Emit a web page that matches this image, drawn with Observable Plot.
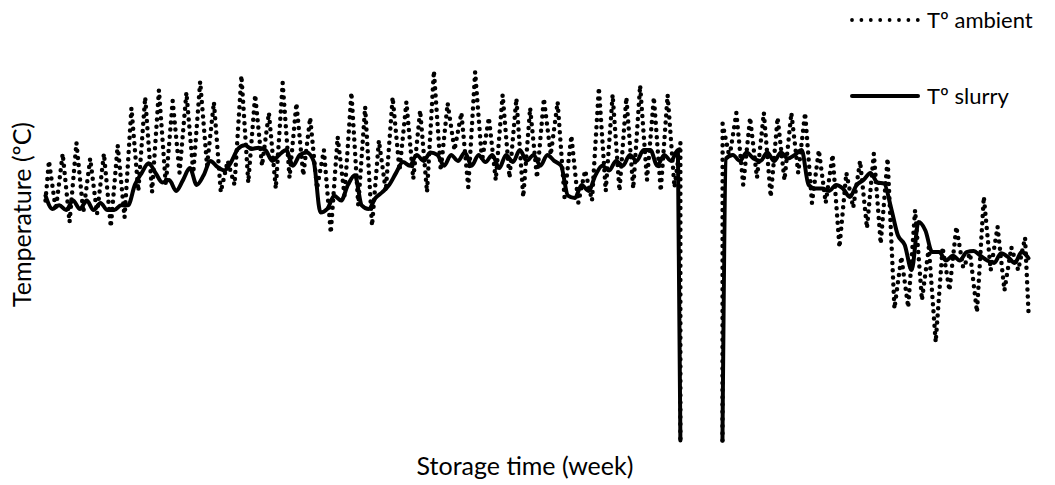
<!DOCTYPE html>
<html>
<head>
<meta charset="utf-8">
<script src="https://cdn.jsdelivr.net/npm/d3@7"></script>
<script src="https://cdn.jsdelivr.net/npm/@observablehq/plot@0.6"></script>
<style>
  html, body { margin: 0; padding: 0; background: #fff; }
  #wrap { position: relative; width: 1055px; height: 485px; font-family: Lato, "Open Sans", sans-serif; }
  .leg { position: absolute; display: flex; align-items: center; font-size: 22px; color: #000; }
  .leg svg { margin-right: 5px; }
</style>
</head>
<body>
<div id="wrap"></div>
<script>
// Time in days; ambient = daily peaks/troughs, slurry sampled every half day (ºC, estimated)
const ambientStart = 20.0;
const ambientPeaks1 = [23.3,23.9,24.8,23.5,23.9,24.6,27.7,28.6,29.2,28.3,29.0,29.9,28.2,23.3,30.4,28.8,27.3,29.8,28.1,26.9,24.2,25.3,29.0,27.8,25.0,28.6,28.2,27.5,30.8,28.1,27.3,30.7,26.9,28.8,28.5,27.7,28.5,28.2,25.4,22.5,29.4,28.8,28.6,29.6,28.6,28.8];
const ambientTroughs1 = [19.2,18.2,19.0,18.9,17.8,18.6,20.8,20.7,21.3,22.3,22.3,22.9,20.7,21.3,21.5,22.9,21.0,21.9,22.1,21.0,17.3,20.4,19.6,17.9,20.8,22.5,21.8,20.7,22.5,24.2,21.1,23.3,21.7,21.9,20.3,21.9,23.8,20.3,19.8,20.0,20.8,20.8,21.0,21.7,20.8,21.1];
const ambientBeforeGap = 24.8;
const ambientPeaks2 = [26.4,27.3,26.9,27.3,26.9,27.3,27.3,24.2,23.8,22.3,23.3,23.9,23.5,15.3,19.2,16.1,16.1,17.8,15.6,20.3,17.8,16.1,16.9];
const ambientTroughs2 = [23.6,21.3,21.9,20.3,21.7,22.3,19.8,19.8,16.1,19.4,17.7,16.4,11.0,11.1,11.7,8.2,12.5,14.4,10.7,14.2,12.5,14.2];
const ambientEnd = 10.7;

const slurry1 = [20.4,19.3,19.6,19.2,20.0,19.3,20.0,19.2,19.8,19.2,19.2,19.6,19.6,21.3,22.3,23.1,22.3,21.5,21.7,20.8,21.7,22.7,21.3,22.1,23.3,22.8,22.5,23.2,24.3,24.6,24.3,24.4,24.2,23.3,23.8,24.2,22.9,23.8,24.0,23.3,19.0,19.3,20.4,20.0,21.3,22.1,19.6,19.3,20.2,20.7,21.3,22.3,23.2,22.9,23.8,23.3,24.0,23.8,22.9,23.8,23.3,24.0,22.9,23.8,23.2,23.8,22.7,23.8,23.2,24.2,23.3,23.8,22.9,23.8,23.3,22.9,20.4,20.2,21.3,20.8,22.1,22.9,22.5,23.3,22.9,23.8,23.3,24.2,24.2,22.9,23.8,23.3,24.2];
const slurry2 = [23.5,23.8,23.3,24.0,23.5,23.3,24.0,23.3,24.0,23.5,23.8,24.2,21.3,21.0,21.0,20.8,21.3,21.0,20.3,21.3,21.7,22.3,21.5,21.4,19.4,17.1,16.3,14.2,18.2,17.5,15.7,15.7,15.0,15.4,15.0,15.7,15.8,15.4,15.0,14.8,15.6,15.3,14.8,15.7,15.2];

const gapStart = 46.18, gapEnd = 49.24, gapFloor = 0;
const slurry2Start = 49.5;
const xLabel = "Storage time (week)";
const yLabel = "Temperature (ºC)";
const legendLabels = ["Tº ambient", "Tº slurry"];

// build tables
const ambient = [{t: 0, v: ambientStart, seg: 1}];
ambientPeaks1.forEach((p, d) => {
  ambient.push({t: d + 0.25, v: p, seg: 1});
  ambient.push({t: d + 0.75, v: ambientTroughs1[d], seg: 1});
});
ambient.push({t: gapStart, v: ambientBeforeGap, seg: 1});
ambient.push({t: gapStart, v: gapFloor, seg: 1});
ambient.push({t: gapEnd, v: gapFloor, seg: 2});
ambientPeaks2.forEach((p, i) => {
  const d = 49 + i;
  ambient.push({t: d + 0.25, v: p, seg: 2});
  if (i < ambientTroughs2.length) ambient.push({t: d + 0.75, v: ambientTroughs2[i], seg: 2});
});
ambient.push({t: 71.5, v: ambientEnd, seg: 2});

const slurry = slurry1.map((v, k) => ({t: k * 0.5, v, seg: 1}));
slurry.push({t: gapStart, v: gapFloor, seg: 1});
slurry.push({t: gapEnd, v: gapFloor, seg: 2});
slurry2.forEach((v, j) => slurry.push({t: slurry2Start + j * 0.5, v, seg: 2}));

const chart = Plot.plot({
  width: 1055,
  height: 485,
  marginLeft: 45,
  marginRight: 27,
  marginTop: 20,
  marginBottom: 45,
  x: {domain: [0, 71.5], axis: null},
  y: {domain: [0, 35], axis: null},
  style: {fontFamily: "Lato, 'Open Sans', sans-serif", background: "#fff"},
  marks: [
    Plot.line(ambient, {x: "t", y: "v", z: "seg", stroke: "#000", strokeWidth: 4.5, strokeDasharray: "0 7.2", strokeLinecap: "round", strokeLinejoin: "round"}),
    Plot.line(slurry, {x: "t", y: "v", z: "seg", stroke: "#000", strokeWidth: 4, strokeLinejoin: "round", curve: "monotone-x"}),
    Plot.text([xLabel], {frameAnchor: "bottom", textAnchor: "middle", dx: -12, dy: 26, fontSize: 25, fill: "#000", lineAnchor: "middle"}),
    Plot.text([yLabel], {frameAnchor: "left", textAnchor: "middle", rotate: -90, dx: -23, dy: -16, fontSize: 25, fill: "#000", lineAnchor: "middle"})
  ]
});
const wrap = document.getElementById("wrap");
wrap.appendChild(chart);

function legendItem(label, dashed, top) {
  const div = document.createElement("div");
  div.className = "leg";
  div.style.left = "848px";
  div.style.top = top + "px";
  const s = d3.create("svg").attr("width", 74).attr("height", 10);
  s.append("line").attr("x1", 4).attr("x2", 70).attr("y1", 5).attr("y2", 5)
    .attr("stroke", "#000").attr("stroke-width", dashed ? 3.8 : 4)
    .attr("stroke-linecap", "round")
    .attr("stroke-dasharray", dashed ? "0 9.4" : null);
  div.appendChild(s.node());
  const span = document.createElement("span");
  span.textContent = label;
  div.appendChild(span);
  wrap.appendChild(div);
}
legendItem(legendLabels[0], true, 6);
legendItem(legendLabels[1], false, 82);
</script>
</body>
</html>
